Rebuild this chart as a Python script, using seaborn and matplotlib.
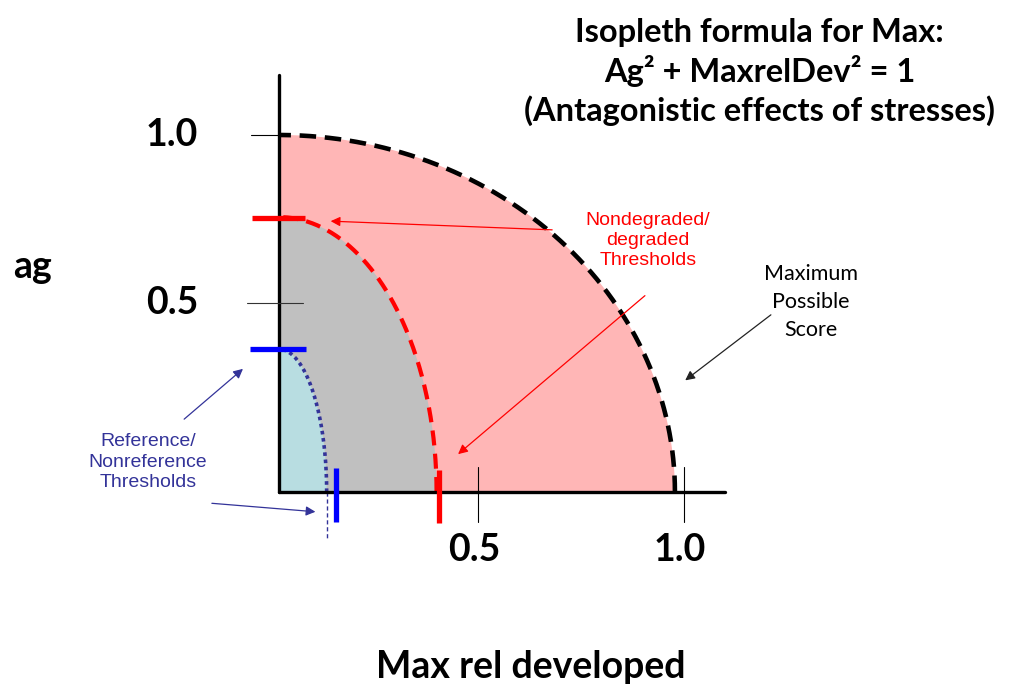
import numpy as np
import pandas as pd
import matplotlib.pyplot as plt
import seaborn as sns

# isopleth radii (x = Max rel developed, y = ag)
max_radius = (0.98, 1.00)       # Maximum possible score
degraded_radius = (0.39, 0.77)  # Nondegraded / degraded threshold
reference_radius = (0.118, 0.40)  # Reference / nonreference threshold

# threshold marks on the axes
red_h_tick = {"x": [-0.067, 0.064], "y": [0.767, 0.767]}
red_v_tick = {"x": [0.396, 0.396], "y": [0.062, -0.087]}
blue_h_tick = {"x": [-0.072, 0.067], "y": [0.40, 0.40]}
blue_v_tick = {"x": [0.141, 0.141], "y": [0.067, -0.084]}

y_tick_vals = [1.0, 0.53]
y_tick_labels = ["1.0", "0.5"]
x_tick_vals = [0.493, 1.002]
x_tick_labels = ["0.5", "1.0"]

title_lines = ["Isopleth formula for Max:",
               "Ag\u00b2 + MaxrelDev\u00b2 = 1",
               "(Antagonistic effects of stresses)"]

PINK = "#FFB6B6"
GRAY = "#C0C0C0"
LBLUE = "#B8DDE1"
NAVY = "#333399"
RED = "#FF0000"


def arc(rx, ry, n=200):
    t = np.linspace(0, np.pi / 2, n)
    return pd.DataFrame({"x": rx * np.cos(t), "y": ry * np.sin(t)})


sns.set_theme(style="white")
plt.rcParams["font.family"] = ["Lato", "DejaVu Sans"]
plt.rcParams["text.color"] = "black"

fig = plt.figure(figsize=(10.28, 6.92), dpi=100)
ax = fig.add_axes([0, 0, 1, 1])
ax.set_xlim(-279 / 404, 749 / 404)
ax.set_ylim(-200 / 357, 492 / 357)
ax.axis("off")

# filled regions
for (rx, ry), col in [(max_radius, PINK), (degraded_radius, GRAY), (reference_radius, LBLUE)]:
    d = arc(rx, ry)
    ax.fill(np.r_[0, d["x"]], np.r_[0, d["y"]], color=col, lw=0, zorder=1)

# isopleth curves
d = arc(*max_radius)
sns.lineplot(data=d, x="x", y="y", sort=False, ax=ax, color="black", lw=3.3,
             linestyle=(0, (3.6, 1.9)), zorder=3)
d = arc(*degraded_radius)
sns.lineplot(data=d, x="x", y="y", sort=False, ax=ax, color=RED, lw=3.0,
             linestyle=(0, (3.6, 2.0)), zorder=3)
d = arc(*reference_radius)
sns.lineplot(data=d, x="x", y="y", sort=False, ax=ax, color=NAVY, lw=2.6,
             linestyle=(0, (1, 1)), zorder=3)
ax.plot([reference_radius[0], reference_radius[0]], [0, -0.134], color=NAVY,
        lw=1.0, linestyle=(0, (3, 2)), zorder=3)

# threshold marks
for tick, col in [(red_h_tick, RED), (red_v_tick, RED), (blue_h_tick, "#0000FF"), (blue_v_tick, "#0000FF")]:
    ax.plot(tick["x"], tick["y"], color=col, lw=3.8, solid_capstyle="butt", zorder=5)

# axes lines and ticks
ax.plot([0, 0], [0, 1.168], color="black", lw=2.4, zorder=4)
ax.plot([0, 1.104], [0, 0], color="black", lw=2.4, zorder=4)
ax.plot([-0.07, 0.015], [1.0, 1.0], color="black", lw=0.8, zorder=4)
ax.plot([-0.079, 0.059], [0.53, 0.53], color="#333333", lw=0.8, zorder=4)
for xv in x_tick_vals:
    ax.plot([xv, xv], [0.07, -0.084], color="black", lw=0.8, zorder=4)

for yv, lab in zip(y_tick_vals, y_tick_labels):
    ax.text(-0.265, yv, lab, fontsize=27, fontweight="bold", ha="center", va="center")
for xv, lab in zip(x_tick_vals, x_tick_labels):
    ax.text(xv - 0.01, -0.162, lab, fontsize=27, fontweight="bold", ha="center", va="center")

ax.text(-0.611, 0.63, "ag", fontsize=27, fontweight="bold", ha="center", va="center")
ax.text(0.624, -0.49, "Max rel developed", fontsize=27, fontweight="bold", ha="center", va="center")

ax.text(1.19, 1.176, "\n".join(title_lines), fontsize=23.5, fontweight="bold",
        ha="center", va="center", linespacing=1.3)

# annotations
ax.text(0.913, 0.705, "Nondegraded/\ndegraded\nThresholds", color=RED, fontsize=14,
        family=["Liberation Sans", "DejaVu Sans"], ha="center", va="center", linespacing=1.25)
red_arrow = dict(arrowstyle="-|>", color=RED, lw=0.9, mutation_scale=14)
ax.annotate("", xy=(0.121, 0.759), xytext=(0.683, 0.734), arrowprops=red_arrow)
ax.annotate("", xy=(0.438, 0.101), xytext=(0.911, 0.555), arrowprops=red_arrow)

ax.text(1.317, 0.532, "Maximum\nPossible\nScore", color="black", fontsize=15.5,
        ha="center", va="center", linespacing=1.5)
ax.annotate("", xy=(1.0, 0.308), xytext=(1.223, 0.501),
            arrowprops=dict(arrowstyle="-|>", color="#222222", lw=0.9, mutation_scale=14))

ax.text(-0.324, 0.084, "Reference/\nNonreference\nThresholds", color=NAVY, fontsize=14,
        family=["Liberation Sans", "DejaVu Sans"], ha="center", va="center",
        linespacing=1.25)
navy_arrow = dict(arrowstyle="-|>", color=NAVY, lw=0.9, mutation_scale=14)
ax.annotate("", xy=(-0.084, 0.350), xytext=(-0.240, 0.199), arrowprops=navy_arrow)
ax.annotate("", xy=(0.097, -0.056), xytext=(-0.173, -0.031), arrowprops=navy_arrow)

fig.savefig("out.png", dpi=100)
